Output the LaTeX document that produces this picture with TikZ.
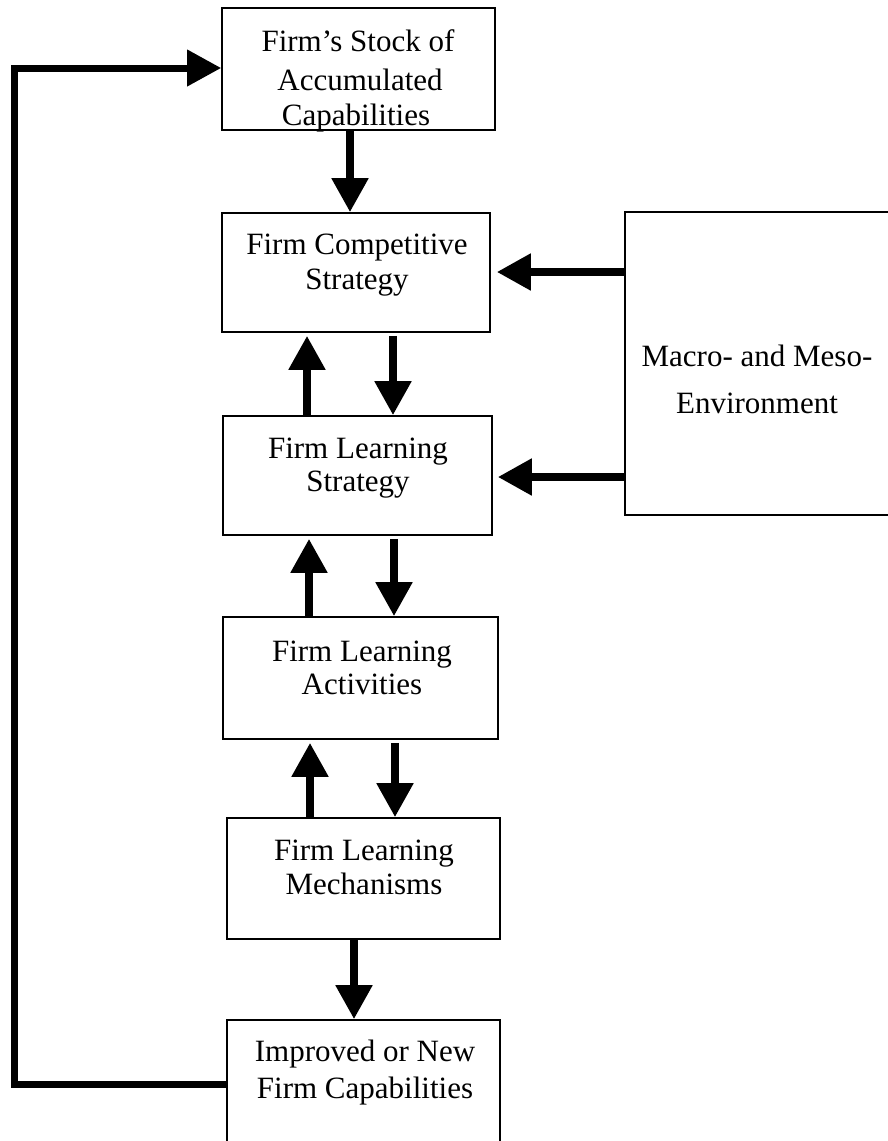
\documentclass[tikz,border=0pt]{standalone}
\usepackage{fontspec}
\setmainfont{Liberation Serif}
\usetikzlibrary{arrows.meta}
\begin{document}
\begin{tikzpicture}[x=1pt,y=-1pt,
  box/.style={draw, line width=1.6pt, inner sep=0pt},
  txt/.style={font=\fontsize{31}{37}\selectfont, inner sep=0pt, anchor=base},
  arr/.style={line width=8pt, -{Triangle[length=34pt,width=35pt]}},
  fb/.style={line width=7pt, -{Triangle[length=34pt,width=35pt]}}]
\useasboundingbox (0,0) rectangle (888,1141);
% boxes
\node[box, minimum width=273pt, minimum height=122pt] (b1) at (358.5,69) {};
\node[box, minimum width=268pt, minimum height=119pt] (b2) at (356,272.5) {};
\node[box, minimum width=269pt, minimum height=119pt] (b3) at (357.5,475.5) {};
\node[box, minimum width=275pt, minimum height=122pt] (b4) at (360.5,678) {};
\node[box, minimum width=273pt, minimum height=121pt] (b5) at (363.5,878.5) {};
\node[box, minimum width=273pt, minimum height=130pt] (b6) at (363.5,1085) {};
\node[box, minimum width=270pt, minimum height=303pt] (b7) at (760,363.5) {};
% texts
\node[txt] (t1a) at (358,51) {Firm’s Stock of};
\node[txt] (t1b) at (360,90) {Accumulated};
\node[txt] (t1c) at (356,125) {Capabilities};
\node[txt] (t2a) at (357,254) {Firm Competitive};
\node[txt] (t2b) at (357,289) {Strategy};
\node[txt] (t3a) at (358,458) {Firm Learning};
\node[txt] (t3b) at (358,491) {Strategy};
\node[txt] (t4a) at (362,661) {Firm Learning};
\node[txt] (t4b) at (362,694) {Activities};
\node[txt] (t5a) at (364,860) {Firm Learning};
\node[txt] (t5b) at (364,894) {Mechanisms};
\node[txt] (t6a) at (365,1061) {Improved or New};
\node[txt] (t6b) at (365,1098) {Firm Capabilities};
\node[txt] (t7a) at (757,366) {Macro- and Meso-};
\node[txt] (t7b) at (757,413) {Environment};
% helper coordinates
\coordinate (v14) at (14,0);
\coordinate (v307) at (307,0);
\coordinate (v309) at (309,0);
\coordinate (v310) at (310,0);
\coordinate (v350) at (350,0);
\coordinate (v354) at (354,0);
\coordinate (v393) at (393,0);
\coordinate (v394) at (394,0);
\coordinate (v395) at (395,0);
\coordinate (h68) at (0,68);
\coordinate (h272) at (0,272);
\coordinate (h477) at (0,477);
\coordinate (h1084) at (0,1084);
% vertical arrows
\draw[arr] (v350 |- b1.south) -- (v350 |- b2.north);
\draw[arr, shorten <=3pt] (v393 |- b2.south) -- (v393 |- b3.north);
\draw[arr, shorten >=3pt] (v307 |- b3.north) -- (v307 |- b2.south);
\draw[arr, shorten <=3pt] (v394 |- b3.south) -- (v394 |- b4.north);
\draw[arr, shorten >=3pt] (v309 |- b4.north) -- (v309 |- b3.south);
\draw[arr, shorten <=3pt] (v395 |- b4.south) -- (v395 |- b5.north);
\draw[arr, shorten >=3pt] (v310 |- b5.north) -- (v310 |- b4.south);
\draw[arr] (v354 |- b5.south) -- (v354 |- b6.north);
% environment arrows
\draw[arr, shorten >=6pt] (h272 -| b7.west) -- (h272 -| b2.east);
\draw[arr, shorten >=5pt] (h477 -| b7.west) -- (h477 -| b3.east);
% feedback loop
\draw[fb] (h1084 -| b6.west) -- (h1084 -| v14) -- (h68 -| v14) -- (h68 -| b1.west);
\end{tikzpicture}
\end{document}
